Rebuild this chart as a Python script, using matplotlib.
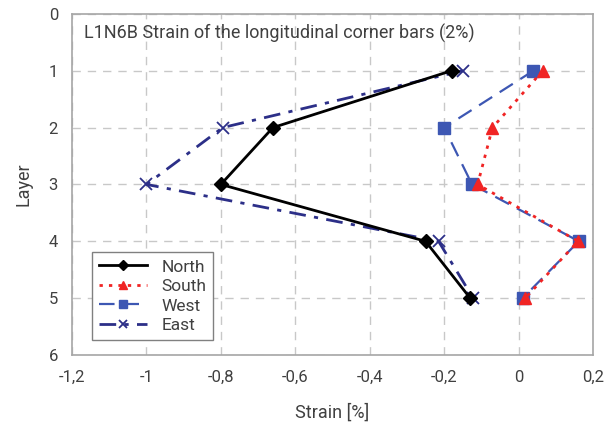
import matplotlib
matplotlib.use('Agg')
import matplotlib.pyplot as plt
from matplotlib.ticker import FuncFormatter

plt.rcParams['font.family'] = ['Roboto', 'DejaVu Sans']

layers = [1, 2, 3, 4, 5]
north = [-0.18, -0.66, -0.80, -0.25, -0.13]
south = [0.065, -0.07, -0.11, 0.16, 0.018]
west = [0.04, -0.20, -0.125, 0.162, 0.011]
east = [-0.15, -0.795, -1.0, -0.215, -0.122]

x_ticks = [-1.2, -1.0, -0.8, -0.6, -0.4, -0.2, 0.0, 0.2]
y_ticks = [0, 1, 2, 3, 4, 5, 6]

text_col = '#404040'

fig = plt.figure(figsize=(6.06, 4.28), dpi=100)
ax = fig.add_axes([0.1188, 0.1706, 0.8597, 0.797])

ax.plot(north, layers, color='black', lw=2, marker='D', ms=7, label='North', zorder=5)
ax.plot(south, layers, color='#f02424', lw=2, ls=(0, (1.2, 2.2)), marker='^', ms=9, label='South', zorder=4)
ax.plot(west, layers, color='#3d57b3', lw=1.6, ls=(0, (7, 4)), marker='s', ms=8, label='West', zorder=3)
ax.plot(east, layers, color='#2c2f88', lw=2, ls=(0, (6, 3, 1.5, 3)), marker='x', ms=9, mew=1.3,
        label='East', zorder=2)

ax.set_xlim(-1.2, 0.2)
ax.set_ylim(6, 0)
ax.set_xticks(x_ticks)
ax.set_yticks(y_ticks)
ax.xaxis.set_major_formatter(FuncFormatter(lambda v, p: f"{round(v, 1):g}".replace('.', ',')))
ax.tick_params(length=0, labelsize=12, colors=text_col, pad=11)
ax.tick_params(axis='y', pad=10)

ax.grid(True, color='#c8c8c8', lw=1, ls=(0, (6, 5)))
ax.set_axisbelow(True)
for s in ax.spines.values():
    s.set_color('#a6a6a6')
    s.set_linewidth(1.2)

ax.set_xlabel('Strain [%]', fontsize=13, color=text_col, labelpad=13)
ax.set_ylabel('Layer', fontsize=13, color=text_col, labelpad=12)

ax.text(0.024, 0.944, 'L1N6B Strain of the longitudinal corner bars (2%)', transform=ax.transAxes,
        fontsize=13, color=text_col, va='center', ha='left')

leg = ax.legend(loc='lower left', bbox_to_anchor=(0.038, 0.044), borderaxespad=0, numpoints=1,
                fontsize=12.5, markerscale=0.7, fancybox=False, framealpha=1, edgecolor='#808080',
                handlelength=2.8, labelspacing=0.25, borderpad=0.4, handletextpad=0.8)
leg.get_frame().set_linewidth(1.0)
for t in leg.get_texts():
    t.set_color(text_col)

fig.savefig('out.png', dpi=100)
